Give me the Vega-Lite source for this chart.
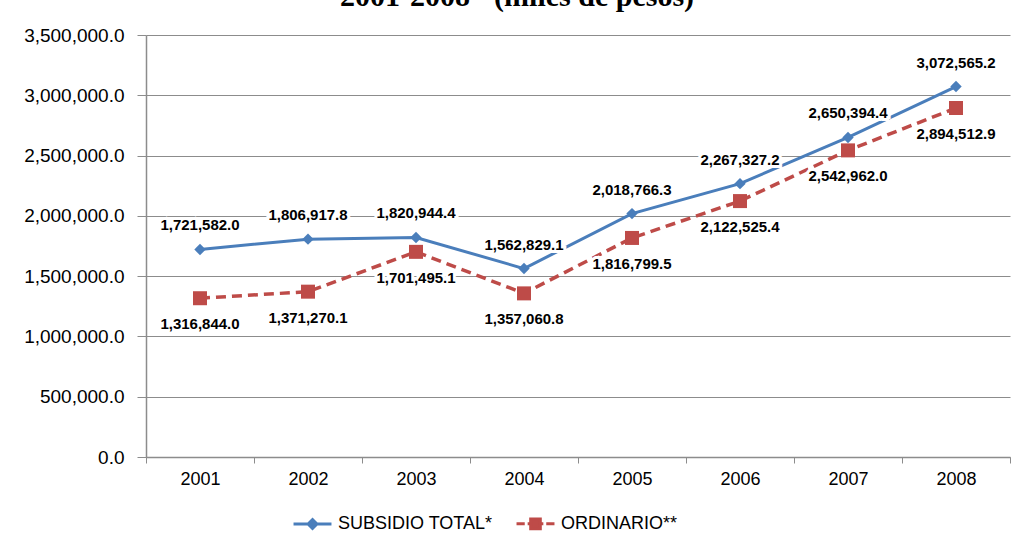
{
  "$schema": "https://vega.github.io/schema/vega-lite/v6.json",
  "width": 864,
  "height": 422,
  "autosize": {"type": "none"},
  "padding": {"left": 146, "top": 35, "right": 6, "bottom": 85},
  "background": "white",
  "title": {
    "text": "2001-2008\" (miles de pesos)",
    "font": "Liberation Serif",
    "fontSize": 30,
    "fontWeight": "bold",
    "color": "black",
    "anchor": "middle",
    "baseline": "alphabetic",
    "offset": 19,
    "dx": -61,
    "dy": 29
  },
  "config": {
    "view": {"stroke": null},
    "font": "Liberation Sans"
  },
  "data": {
    "values": [
      {"year": "2001", "serie": "SUBSIDIO TOTAL*", "value": 1721582.0},
      {"year": "2002", "serie": "SUBSIDIO TOTAL*", "value": 1806917.8},
      {"year": "2003", "serie": "SUBSIDIO TOTAL*", "value": 1820944.4},
      {"year": "2004", "serie": "SUBSIDIO TOTAL*", "value": 1562829.1},
      {"year": "2005", "serie": "SUBSIDIO TOTAL*", "value": 2018766.3},
      {"year": "2006", "serie": "SUBSIDIO TOTAL*", "value": 2267327.2},
      {"year": "2007", "serie": "SUBSIDIO TOTAL*", "value": 2650394.4},
      {"year": "2008", "serie": "SUBSIDIO TOTAL*", "value": 3072565.2},
      {"year": "2001", "serie": "ORDINARIO**", "value": 1316844.0},
      {"year": "2002", "serie": "ORDINARIO**", "value": 1371270.1},
      {"year": "2003", "serie": "ORDINARIO**", "value": 1701495.1},
      {"year": "2004", "serie": "ORDINARIO**", "value": 1357060.8},
      {"year": "2005", "serie": "ORDINARIO**", "value": 1816799.5},
      {"year": "2006", "serie": "ORDINARIO**", "value": 2122525.4},
      {"year": "2007", "serie": "ORDINARIO**", "value": 2542962.0},
      {"year": "2008", "serie": "ORDINARIO**", "value": 2894512.9}
    ]
  },
  "encoding": {
    "x": {
      "field": "year",
      "type": "ordinal",
      "scale": {"type": "band", "paddingInner": 0, "paddingOuter": 0},
      "axis": {
        "title": null,
        "labelAngle": 0,
        "labelFont": "Liberation Sans",
        "labelFontSize": 18,
        "labelColor": "black",
        "labelPadding": 7,
        "tickBand": "extent",
        "tickSize": 6,
        "tickColor": "#8c8c8c",
        "domainColor": "#8c8c8c",
        "domainWidth": 1.5,
        "grid": false
      }
    },
    "y": {
      "field": "value",
      "type": "quantitative",
      "scale": {"domain": [0, 3500000], "nice": false, "zero": true},
      "axis": {
        "title": null,
        "values": [0, 500000, 1000000, 1500000, 2000000, 2500000, 3000000, 3500000],
        "format": ",.1f",
        "labelFont": "Liberation Sans",
        "labelFontSize": 19,
        "labelColor": "black",
        "labelPadding": 13,
        "tickSize": 9,
        "tickColor": "#8c8c8c",
        "domainColor": "#8c8c8c",
        "domainWidth": 1.5,
        "grid": true,
        "gridColor": "#8c8c8c",
        "gridWidth": 1
      }
    }
  },
  "layer": [
    {
      "transform": [{"filter": "datum.serie == 'ORDINARIO**'"}],
      "mark": {"type": "line", "strokeWidth": 3.5, "strokeDash": [10, 6]},
      "encoding": {
        "color": {
          "field": "serie",
          "type": "nominal",
          "scale": {"domain": ["SUBSIDIO TOTAL*", "ORDINARIO**"], "range": ["#4A7EBB", "#BE4B48"]},
          "legend": {
            "orient": "none",
            "legendX": 152,
            "legendY": 474,
            "direction": "horizontal",
            "title": null,
            "symbolSize": 640,
            "symbolStrokeWidth": 3,
            "labelFont": "Liberation Sans",
            "labelFontSize": 18,
            "labelColor": "black",
            "labelOffset": 11,
            "columnPadding": 17,
            "padding": 0,
            "encode": {
              "symbols": {
                "update": {
                  "shape": {"signal": "datum.value == 'SUBSIDIO TOTAL*' ? 'M-1.5,0H1.5M-0.35,0L0,-0.35L0.35,0L0,0.35Z' : 'M-1.5,0H-0.85M-0.62,0H-0.38M0.38,0H0.62M0.85,0H1.5M-0.38,-0.38H0.38V0.38H-0.38Z'"},
                  "fill": {"signal": "datum.value == 'SUBSIDIO TOTAL*' ? '#4F81BD' : '#C0504D'"},
                  "stroke": {"signal": "datum.value == 'SUBSIDIO TOTAL*' ? '#4A7EBB' : '#BE4B48'"},
                  "strokeDash": {"value": []},
                  "opacity": {"value": 1}
                }
              }
            }
          }
        }
      }
    },
    {
      "transform": [{"filter": "datum.serie == 'SUBSIDIO TOTAL*'"}],
      "mark": {"type": "line", "strokeWidth": 3},
      "encoding": {
        "color": {"field": "serie", "type": "nominal"}
      }
    },
    {
      "transform": [{"filter": "datum.serie == 'SUBSIDIO TOTAL*'"}],
      "mark": {"type": "point", "filled": true, "opacity": 1, "shape": "diamond", "size": 130},
      "encoding": {
        "color": {"field": "serie", "type": "nominal", "legend": null}
      }
    },
    {
      "transform": [{"filter": "datum.serie == 'ORDINARIO**'"}],
      "mark": {"type": "point", "filled": true, "opacity": 1, "shape": "square", "size": 196},
      "encoding": {
        "color": {"field": "serie", "type": "nominal", "legend": null}
      }
    },
    {
      "transform": [{"filter": "datum.serie == 'SUBSIDIO TOTAL*'"}],
      "mark": {"type": "text", "dy": -24, "font": "Liberation Sans", "fontSize": 15, "fontWeight": "bold", "fill": "white", "stroke": "white", "strokeWidth": 6, "baseline": "middle"},
      "encoding": {"text": {"field": "value", "type": "quantitative", "format": ",.1f"}}
    },
    {
      "transform": [{"filter": "datum.serie == 'ORDINARIO**'"}],
      "mark": {"type": "text", "dy": 26, "font": "Liberation Sans", "fontSize": 15, "fontWeight": "bold", "fill": "white", "stroke": "white", "strokeWidth": 6, "baseline": "middle"},
      "encoding": {"text": {"field": "value", "type": "quantitative", "format": ",.1f"}}
    },
    {
      "transform": [{"filter": "datum.serie == 'SUBSIDIO TOTAL*'"}],
      "mark": {"type": "text", "dy": -24, "font": "Liberation Sans", "fontSize": 15, "fontWeight": "bold", "fill": "black", "baseline": "middle"},
      "encoding": {"text": {"field": "value", "type": "quantitative", "format": ",.1f"}}
    },
    {
      "transform": [{"filter": "datum.serie == 'ORDINARIO**'"}],
      "mark": {"type": "text", "dy": 26, "font": "Liberation Sans", "fontSize": 15, "fontWeight": "bold", "fill": "black", "baseline": "middle"},
      "encoding": {"text": {"field": "value", "type": "quantitative", "format": ",.1f"}}
    }
  ]
}
